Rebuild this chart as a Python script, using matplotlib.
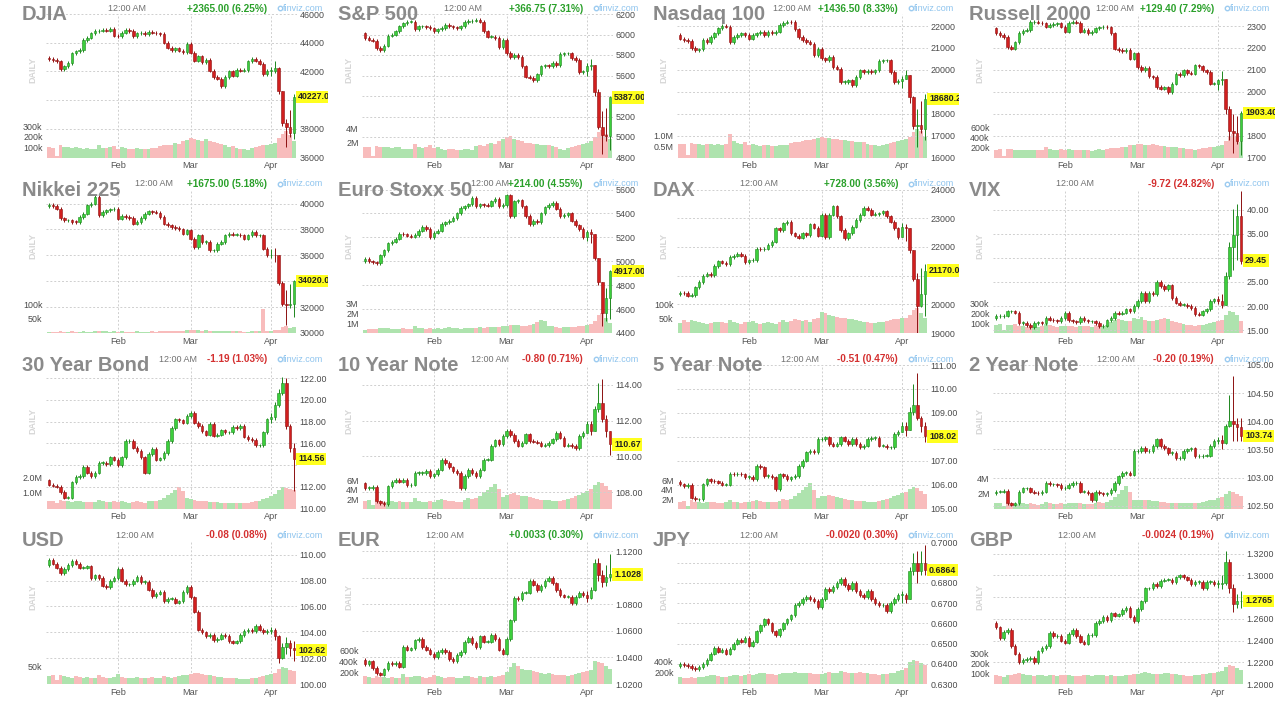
import numpy as np
import matplotlib.pyplot as plt
from matplotlib.lines import Line2D
from matplotlib.patches import Rectangle

plt.rcParams['font.family'] = ['Liberation Sans', 'DejaVu Sans']

W, H = 1280, 702

month_labels = ['Feb', 'Mar', 'Apr']
month_pos = [18, 37, 58]

# ---------------- closes (Jan / Feb / Mar / Apr rows) ----------------
dj_close = [42850, 42800, 42700, 42150, 42350, 42600, 43250, 43400, 43500, 44200, 44350, 44650, 44800, 44850, 44900, 44850, 44950, 44500,
            44450, 44700, 44900, 44800, 44450, 44650, 44700, 44600, 44750, 44700, 44650, 44600, 44000, 43650, 43500, 43600, 43450, 43350, 43900,
            43300, 42750, 43050, 42650, 42800, 42050, 41600, 41500, 40950, 41600, 42000, 41700, 42100, 42050, 42100, 42700, 42850, 42750, 42550, 41800, 42050,
            42050, 42250, 40600, 38400, 38100, 37700, 40227]
sp_close = [5965, 5950, 5940, 5870, 5850, 5890, 5990, 6000, 6030, 6080, 6110, 6125, 6125, 6050, 6080, 6080, 6075, 6060,
            6035, 6050, 6065, 6095, 6080, 6070, 6065, 6080, 6120, 6130, 6135, 6145, 6125, 6030, 5980, 5980, 5965, 5880, 5950,
            5820, 5780, 5800, 5780, 5690, 5590, 5580, 5555, 5610, 5690, 5700, 5690, 5720, 5700, 5810, 5815, 5815, 5770, 5750, 5630, 5640,
            5690, 5700, 5440, 5095, 5020, 5010, 5387]
nq_close = [21430, 21360, 21310, 21000, 20900, 20930, 21360, 21280, 21500, 21660, 21900, 22000, 21970, 21280, 21500, 21590, 21660, 21600,
            21430, 21590, 21660, 21740, 21590, 21740, 21660, 21740, 22050, 22150, 22200, 22180, 21850, 21510, 21360, 21280, 21200, 20670, 20970,
            20520, 20440, 20590, 20130, 20060, 19450, 19450, 19520, 19300, 19670, 19980, 19900, 19950, 19900, 19980, 20400, 20440, 20440, 19900, 19450, 19500,
            19600, 19750, 18750, 17450, 17500, 17300, 18680]
rut_close = [2268, 2259, 2251, 2205, 2197, 2226, 2269, 2279, 2282, 2318, 2320, 2315, 2312, 2297, 2305, 2309, 2312, 2297,
             2274, 2315, 2320, 2315, 2274, 2282, 2266, 2274, 2289, 2294, 2297, 2294, 2266, 2197, 2190, 2187, 2190, 2151, 2175,
             2113, 2098, 2110, 2070, 2067, 2021, 2014, 2020, 1998, 2037, 2082, 2075, 2098, 2086, 2083, 2121, 2116, 2098, 2090, 2037, 2037,
             2052, 2060, 1922, 1822, 1813, 1777, 1903.4]
nk_close = [39900, 39820, 39600, 38850, 38700, 38700, 38580, 38570, 38960, 39220, 39870, 40000, 40500, 39100, 39350, 39480, 39560, 39600,
            38840, 39040, 38970, 38890, 38450, 38580, 38890, 39220, 39400, 39350, 39300, 38970, 38450, 38320, 38190, 38110, 38010, 37670, 37930,
            37290, 36640, 37550, 37030, 37030, 36380, 36380, 36900, 37030, 37550, 37670, 37600, 37600, 37550, 37290, 37550, 37800, 37550, 37550, 36510, 35990,
            36000, 35990, 33900, 32250, 32200, 32250, 34020]
es_close = [5020, 5000, 4990, 4985, 5050, 5090, 5150, 5165, 5190, 5230, 5225, 5215, 5205, 5220, 5255, 5285, 5270, 5200,
            5240, 5255, 5310, 5325, 5340, 5360, 5400, 5445, 5460, 5475, 5530, 5460, 5475, 5470, 5465, 5500, 5520, 5460, 5470,
            5550, 5380, 5500, 5510, 5460, 5380, 5310, 5340, 5330, 5400, 5450, 5470, 5490, 5440, 5380, 5385, 5400, 5340, 5300, 5270, 5200,
            5245, 5230, 5030, 4830, 4570, 4690, 4917]
dax_close = [20410, 20390, 20300, 20320, 20590, 20770, 21000, 21060, 21020, 21340, 21500, 21450, 21400, 21650, 21700, 21770, 21700, 21470,
             21530, 21550, 21940, 21920, 21940, 22060, 22180, 22650, 22590, 22820, 22880, 22470, 22390, 22320, 22470, 22410, 22790, 22670, 22390,
             23120, 22350, 23120, 23410, 23060, 22590, 22300, 22470, 22710, 22940, 23120, 23350, 23300, 23120, 23140, 23170, 23240, 23060, 22880, 22650, 22350,
             22700, 22650, 21880, 20880, 19940, 20350, 21170]
vix_close = [17.9, 17.9, 18.0, 18.9, 18.9, 18.6, 16.5, 16.5, 16.1, 15.6, 16.5, 16.6, 16.5, 17.5, 17.2, 17.0, 16.8, 17.5,
             18.6, 17.0, 16.8, 16.6, 17.5, 17.0, 16.8, 16.8, 16.5, 15.8, 15.9, 17.0, 17.5, 18.6, 18.4, 18.6, 19.3, 18.9, 20.0,
             21.0, 22.8, 21.0, 22.8, 22.4, 25.0, 24.2, 23.5, 24.3, 21.7, 20.7, 20.3, 20.3, 20.0, 19.6, 18.3, 18.2, 18.9, 19.3, 21.0, 21.4,
             21.0, 20.3, 26.2, 32.2, 34.8, 38.8, 29.45]
us30_close = [112.2, 112.1, 112.0, 111.5, 111.0, 111.0, 112.4, 112.9, 113.0, 113.8, 113.3, 113.0, 113.3, 114.2, 114.2, 114.1, 114.7, 114.5,
              114.0, 114.7, 116.2, 116.2, 115.6, 115.3, 114.7, 113.3, 115.0, 115.5, 114.5, 114.6, 115.1, 116.2, 117.4, 118.2, 118.1, 117.9, 118.5,
              118.8, 117.9, 117.6, 117.1, 116.8, 117.8, 116.7, 116.8, 117.2, 117.0, 117.0, 117.5, 117.4, 117.6, 116.6, 116.4, 116.3, 115.8, 115.8, 117.0, 118.2,
              118.4, 119.5, 120.6, 121.5, 117.6, 115.6, 114.56]
ty10_close = [108.24, 108.24, 108.3, 107.5, 107.4, 107.35, 108.34, 108.6, 108.7, 108.6, 108.7, 108.4, 108.43, 109.08, 109.08, 109.08, 109.18, 108.9,
              109.0, 109.27, 109.83, 109.64, 109.4, 109.18, 109.08, 108.24, 108.9, 109.27, 109.08, 108.9, 109.27, 109.83, 109.83, 110.6, 110.9, 110.7, 111.14,
              111.42, 111.2, 110.86, 110.6, 110.77, 111.23, 110.86, 110.82, 110.77, 110.6, 110.64, 110.77, 110.95, 111.33, 111.05, 110.6, 110.64, 110.58, 110.45, 111.14, 111.33,
              111.8, 111.42, 112.64, 113.0, 112.08, 111.4, 110.67]
fv5_close = [106.01, 105.94, 106.0, 105.45, 105.38, 105.38, 106.01, 106.22, 106.15, 106.13, 106.08, 106.0, 106.0, 106.46, 106.43, 106.46, 106.43, 106.32,
             106.32, 106.22, 106.78, 106.72, 106.36, 106.36, 106.3, 105.8, 106.43, 106.36, 106.22, 106.3, 106.36, 106.78, 107.0, 107.35, 107.42, 107.35, 107.9,
             107.91, 107.98, 107.7, 107.63, 107.7, 107.98, 107.84, 107.7, 107.91, 107.7, 107.56, 107.63, 107.91, 107.95, 107.95, 107.63, 107.63, 107.56, 107.56, 108.12, 108.19,
             108.47, 108.29, 109.03, 109.31, 108.8, 108.45, 108.02]
tu2_close = [102.75, 102.75, 102.76, 102.54, 102.52, 102.54, 102.75, 102.81, 102.81, 102.75, 102.73, 102.72, 102.75, 102.9, 102.88, 102.88, 102.87, 102.81,
             102.82, 102.87, 102.9, 102.9, 102.75, 102.75, 102.72, 102.6, 102.75, 102.72, 102.7, 102.72, 102.78, 102.9, 103.02, 103.08, 103.08, 103.05, 103.47,
             103.47, 103.53, 103.47, 103.47, 103.56, 103.68, 103.56, 103.52, 103.44, 103.44, 103.34, 103.35, 103.47, 103.5, 103.52, 103.38, 103.38, 103.39, 103.39, 103.56, 103.65,
             103.66, 103.62, 103.92, 104.01, 103.95, 103.9, 103.74]
usd_close = [109.6, 109.3, 109.0, 108.6, 108.9, 109.2, 109.5, 109.3, 109.0, 109.0, 109.1, 108.2, 108.4, 108.2, 107.6, 107.5, 108.0, 108.2,
             108.9, 108.0, 107.7, 107.7, 108.0, 108.3, 107.9, 107.9, 107.3, 106.8, 107.0, 107.1, 106.4, 106.6, 106.6, 106.3, 106.4, 107.1, 107.5,
             106.7, 105.6, 104.2, 104.0, 103.7, 103.8, 103.4, 103.5, 103.8, 103.7, 103.3, 103.2, 103.3, 103.8, 104.1, 104.2, 104.1, 104.5, 104.2, 104.0, 104.1,
             104.2, 103.7, 102.0, 102.9, 103.2, 102.8, 102.62]
eur_close = [1.035, 1.037, 1.032, 1.028, 1.027, 1.031, 1.036, 1.035, 1.036, 1.033, 1.048, 1.046, 1.047, 1.053, 1.054, 1.048, 1.046, 1.043,
             1.040, 1.044, 1.046, 1.044, 1.039, 1.037, 1.042, 1.044, 1.052, 1.055, 1.051, 1.048, 1.056, 1.052, 1.052, 1.057, 1.054, 1.046, 1.043,
             1.054, 1.068, 1.085, 1.084, 1.089, 1.089, 1.098, 1.095, 1.091, 1.094, 1.098, 1.100, 1.096, 1.091, 1.087, 1.086, 1.086, 1.081, 1.086, 1.089, 1.087,
             1.085, 1.091, 1.111, 1.102, 1.097, 1.101, 1.1028]
jpy_close = [0.6400, 0.6395, 0.6390, 0.6380, 0.6375, 0.6385, 0.6400, 0.6420, 0.6450, 0.6480, 0.6460, 0.6470, 0.6450, 0.6475, 0.6500, 0.6520, 0.6510, 0.6530,
             0.6490, 0.6510, 0.6560, 0.6590, 0.6620, 0.6600, 0.6560, 0.6540, 0.6570, 0.6600, 0.6620, 0.6640, 0.6690, 0.6700, 0.6720, 0.6730, 0.6720, 0.6710, 0.6680,
             0.6720, 0.6770, 0.6760, 0.6780, 0.6800, 0.6820, 0.6790, 0.6770, 0.6800, 0.6760, 0.6740, 0.6730, 0.6760, 0.6720, 0.6700, 0.6690, 0.6690, 0.6660, 0.6700, 0.6720, 0.6740,
             0.6740, 0.6720, 0.6860, 0.6900, 0.6860, 0.6900, 0.6864]
gbp_close = [1.2520, 1.2420, 1.2480, 1.2500, 1.2350, 1.2280, 1.2200, 1.2220, 1.2230, 1.2240, 1.2200, 1.2300, 1.2330, 1.2350, 1.2470, 1.2440, 1.2440, 1.2400,
             1.2380, 1.2460, 1.2500, 1.2440, 1.2390, 1.2370, 1.2450, 1.2450, 1.2560, 1.2580, 1.2620, 1.2590, 1.2650, 1.2630, 1.2640, 1.2680, 1.2700, 1.2620, 1.2580,
             1.2690, 1.2760, 1.2880, 1.2880, 1.2920, 1.2900, 1.2950, 1.2960, 1.2960, 1.2940, 1.2980, 1.3000, 1.2980, 1.2960, 1.2920, 1.2940, 1.2940, 1.2880, 1.2940, 1.2940, 1.2920,
             1.2920, 1.2930, 1.3120, 1.2880, 1.2740, 1.2760, 1.2765]

# highs / lows of the last seven (April) sessions
dj_hi = [42300, 42700, 42300, 40600, 38700, 39300, 40400]
dj_lo = [41700, 41900, 40400, 38200, 36700, 37400, 37300]
sp_hi = [5720, 5760, 5620, 5470, 5250, 5280, 5400]
sp_lo = [5600, 5650, 5400, 5080, 4830, 4960, 4870]
nq_hi = [19700, 20000, 19300, 18800, 18200, 18600, 18900]
nq_lo = [19150, 19600, 18500, 17300, 16500, 17100, 16800]
rut_hi = [2060, 2095, 1960, 1935, 1900, 1890, 1910]
rut_lo = [2010, 2030, 1900, 1780, 1720, 1760, 1710]
nk_hi = [36500, 36600, 35200, 34000, 33300, 33800, 34100]
nk_lo = [35800, 35500, 33700, 32100, 30600, 31900, 31200]
es_hi = [5260, 5270, 5100, 5030, 4800, 4780, 4930]
es_lo = [5170, 5150, 5010, 4800, 4460, 4500, 4520]
dax_hi = [22850, 22800, 22150, 21900, 21100, 21250, 21400]
dax_lo = [22600, 22200, 21800, 20800, 19000, 19900, 19600]
vix_hi = [22.0, 22.4, 27.0, 33.3, 40.2, 41.2, 43.8]
vix_lo = [20.5, 19.6, 20.4, 25.6, 27.5, 29.5, 28.8]
us30_hi = [118.8, 119.8, 121.0, 122.1, 122.0, 117.8, 116.0]
us30_lo = [117.9, 118.1, 119.3, 120.4, 117.3, 115.2, 111.6]
ty10_hi = [112.0, 112.0, 112.8, 114.1, 114.3, 112.3, 111.4]
ty10_lo = [111.3, 111.2, 111.4, 112.5, 111.9, 111.1, 110.1]
fv5_hi = [108.6, 108.6, 109.25, 110.2, 110.65, 108.85, 108.6]
fv5_lo = [108.2, 108.05, 108.3, 108.9, 108.7, 108.2, 107.8]
tu2_hi = [103.72, 103.75, 103.95, 104.46, 104.8, 104.05, 104.05]
tu2_lo = [103.6, 103.5, 103.6, 103.9, 103.65, 103.65, 103.65]
usd_hi = [104.4, 104.3, 103.8, 103.2, 103.6, 103.4, 103.3]
usd_lo = [103.9, 103.4, 101.6, 101.9, 102.3, 102.2, 101.8]
eur_hi = [1.090, 1.093, 1.114, 1.115, 1.106, 1.110, 1.118]
eur_lo = [1.082, 1.084, 1.090, 1.098, 1.093, 1.094, 1.098]
jpy_hi = [0.6760, 0.6750, 0.6880, 0.6950, 0.6960, 0.6960, 0.6990]
jpy_lo = [0.6700, 0.6700, 0.6720, 0.6840, 0.6800, 0.6840, 0.6840]
gbp_hi = [1.296, 1.300, 1.322, 1.315, 1.292, 1.283, 1.286]
gbp_lo = [1.288, 1.287, 1.291, 1.284, 1.266, 1.270, 1.270]

# ---------------- volumes ----------------
dj_vol = [100, 95, 10, 125, 100, 100, 95, 100, 90, 85, 90, 80, 85, 120, 90, 90, 100, 110,
          85, 100, 90, 80, 85, 90, 85, 80, 85, 95, 90, 110, 125, 120, 125, 140, 130, 160, 170,
          185, 175, 170, 160, 180, 160, 150, 140, 130, 120, 100, 110, 90, 85, 80, 75, 90, 100, 110, 120, 125,
          130, 140, 190, 230, 260, 220, 160]
sp_vol = [1.5, 1.4, 0.2, 1.6, 1.5, 1.4, 1.5, 1.3, 1.4, 1.5, 1.2, 1.1, 1.2, 1.8, 1.4, 1.3, 1.4, 1.7,
          1.3, 1.4, 1.1, 1.0, 1.2, 1.1, 1.0, 1.0, 1.1, 1.2, 1.0, 1.6, 1.7, 1.6, 1.9, 2.0, 1.8, 2.3, 2.5,
          2.8, 3.0, 2.5, 2.4, 2.2, 2.0, 2.0, 1.8, 1.8, 1.7, 1.7, 1.7, 1.6, 1.4, 1.2, 1.0, 1.3, 1.4, 1.6, 1.7, 1.9,
          2.0, 2.2, 2.8, 3.5, 3.8, 3.2, 2.6]
nq_vol = [.62, .60, .10, .65, .62, .60, .58, .62, .60, .55, .60, .58, .62, 1.05, .75, .65, .62, .68,
          .58, .60, .55, .52, .55, .56, .52, .50, .55, .58, .55, .66, .72, .70, .74, .80, .78, .86, .88,
          .92, .90, .88, .85, .86, .80, .78, .76, .74, .72, .70, .68, .62, .58, .55, .52, .58, .62, .66, .72, .76,
          .80, .82, .95, 1.15, 1.30, 1.20, .95]
rut_vol = [150, 160, 20, 170, 160, 150, 150, 155, 150, 145, 150, 140, 150, 200, 165, 155, 150, 170,
           150, 165, 150, 140, 145, 150, 140, 135, 150, 160, 150, 175, 190, 180, 190, 210, 205, 240, 250,
           270, 260, 250, 245, 260, 240, 235, 225, 215, 205, 200, 195, 180, 170, 160, 150, 170, 180, 190, 200, 210,
           220, 240, 320, 420, 470, 400, 300]
nk_vol = [5, 5, 4, 6, 5, 5, 6, 5, 5, 6, 5, 5, 6, 8, 7, 6, 5, 6,
          5, 6, 5, 5, 5, 6, 5, 5, 5, 6, 5, 6, 6, 6, 6, 7, 7, 8, 9,
          10, 9, 9, 8, 9, 8, 7, 7, 7, 6, 6, 6, 6, 6, 5, 5, 6, 6, 6, 85, 7,
          8, 10, 12, 20, 25, 18, 22]
es_vol = [.35, .45, .40, .45, .50, .55, .50, .45, .40, .45, .50, .45, .45, .70, .55, .50, .45, .55,
          .45, .50, .45, .55, .60, .55, .50, .45, .50, .55, .50, .55, .60, .55, .60, .65, .60, .65, .70,
          .75, .80, .85, .80, .75, .70, .80, .90, 1.1, 1.3, 1.2, .75, .70, .60, .55, .60, .65, .60, .65, .70, .75,
          .80, .90, 1.2, 1.8, 2.1, 1.5, 1.0]
dax_vol = [35, 45, 40, 45, 42, 38, 35, 33, 35, 38, 40, 38, 36, 45, 40, 35, 32, 40,
           38, 42, 35, 32, 35, 38, 35, 33, 40, 45, 38, 42, 48, 45, 42, 45, 40, 48, 52,
           75, 70, 65, 60, 58, 55, 52, 50, 48, 45, 42, 40, 38, 36, 35, 38, 40, 42, 45, 48, 50,
           52, 55, 65, 80, 88, 70, 55]
vix_vol = [80, 90, 30, 85, 80, 90, 75, 70, 65, 70, 65, 60, 70, 95, 80, 70, 65, 75,
           70, 75, 70, 65, 70, 75, 70, 65, 80, 75, 70, 85, 110, 130, 140, 135, 120, 125, 150,
           140, 160, 130, 120, 125, 130, 140, 150, 140, 120, 110, 100, 90, 85, 80, 75, 80, 85, 90, 100, 110,
           120, 130, 180, 230, 220, 180, 120]
us30_vol = [.45, .50, .35, .55, .50, .45, .40, .45, .45, .40, .42, .40, .42, .55, .45, .42, .40, .45,
            .40, .45, .40, .38, .42, .45, .40, .38, .45, .50, .45, .55, .70, .85, 1.0, 1.2, 1.4, 1.1, .70,
            .60, .55, .50, .48, .45, .42, .40, .40, .38, .36, .35, .35, .34, .34, .36, .38, .40, .45, .50, .60, .70,
            .80, .95, 1.20, 1.35, 1.30, 1.25, 1.20]
ty10_vol = [1.6, 1.8, .8, 2.0, 1.7, 1.5, 1.4, 1.6, 1.5, 1.6, 1.4, 1.3, 1.5, 2.2, 1.7, 1.5, 1.4, 1.7,
            1.5, 1.8, 2.0, 1.8, 1.7, 1.6, 1.5, 1.5, 1.8, 2.2, 2.0, 2.3, 2.8, 3.5, 4.0, 4.6, 5.4, 4.2, 2.5,
            3.0, 3.2, 3.3, 3.0, 2.8, 2.6, 2.4, 2.2, 2.0, 1.9, 1.8, 1.8, 1.7, 1.6, 1.7, 1.8, 2.0, 2.2, 2.6, 3.0, 3.4,
            3.8, 4.2, 5.0, 5.7, 5.6, 4.8, 4.0]
fv5_vol = [1.4, 1.6, .6, 1.8, 1.5, 1.3, 1.2, 1.4, 1.3, 1.4, 1.2, 1.1, 1.3, 1.9, 1.5, 1.3, 1.2, 1.5,
           1.3, 1.6, 1.8, 1.6, 1.5, 1.4, 1.3, 1.3, 1.6, 2.0, 1.8, 2.1, 2.6, 3.3, 3.9, 4.6, 5.6, 4.0, 2.2,
           2.6, 2.8, 2.9, 2.6, 2.4, 2.2, 2.0, 1.9, 1.8, 1.7, 1.6, 1.6, 1.5, 1.4, 1.5, 1.6, 1.8, 2.0, 2.3, 2.6, 3.0,
           3.3, 3.6, 4.2, 4.7, 4.5, 3.8, 3.2]
tu2_vol = [.7, .8, .3, .9, .7, .6, .6, .7, .6, .7, .6, .5, .6, .9, .7, .6, .6, .7,
           .6, .7, .8, .7, .7, .6, .6, .6, .7, .9, .8, .9, 1.2, 1.6, 2.0, 2.5, 3.1, 2.2, 1.1,
           1.1, 1.2, 1.2, 1.1, 1.0, 1.0, .9, .9, .8, .8, .8, .7, .7, .7, .7, .8, .8, .9, 1.0, 1.1, 1.2,
           1.4, 1.6, 1.9, 2.3, 2.2, 2.0, 1.7]
usd_vol = [22, 25, 12, 24, 22, 20, 18, 22, 20, 18, 20, 16, 18, 26, 20, 18, 16, 20,
           28, 20, 18, 16, 18, 20, 18, 16, 18, 20, 16, 18, 22, 20, 18, 20, 22, 24, 26,
           28, 30, 32, 28, 26, 24, 22, 20, 20, 18, 18, 16, 16, 15, 14, 14, 16, 18, 20, 22, 24,
           28, 30, 42, 46, 44, 40, 36]
eur_vol = [150, 120, 110, 140, 130, 120, 110, 120, 110, 100, 180, 130, 120, 150, 140, 120, 110, 130,
           160, 140, 120, 110, 120, 130, 110, 100, 150, 140, 120, 110, 150, 130, 120, 140, 130, 150, 160,
           220, 300, 380, 320, 280, 250, 260, 240, 220, 200, 190, 200, 180, 170, 160, 160, 150, 170, 180, 200, 210,
           230, 260, 420, 400, 380, 330, 280]
jpy_vol = [120, 110, 100, 120, 110, 120, 130, 140, 150, 160, 140, 130, 120, 140, 150, 160, 140, 150,
           170, 160, 180, 190, 200, 180, 170, 160, 180, 190, 200, 190, 210, 200, 190, 200, 190, 180, 170,
           180, 200, 210, 200, 190, 220, 210, 200, 190, 200, 210, 200, 190, 180, 170, 160, 170, 180, 190, 200, 220,
           250, 280, 380, 420, 400, 360, 330]
gbp_vol = [90, 80, 70, 85, 90, 100, 110, 95, 90, 85, 80, 90, 85, 80, 90, 85, 80, 85,
           90, 85, 80, 75, 80, 85, 90, 80, 85, 90, 85, 80, 85, 80, 75, 80, 85, 90, 95,
           100, 110, 115, 105, 100, 95, 100, 105, 110, 100, 95, 90, 85, 80, 80, 85, 90, 95, 100, 105, 110,
           120, 130, 170, 190, 180, 160, 140]

GREEN_TXT, RED_TXT = '#2aa02a', '#d43030'

panels = [
    dict(name='DJIA', change='+2365.00 (6.25%)', up=True, last='40227.00', open0=42950,
         close=dj_close, vol=dj_vol, hi=dj_hi, lo=dj_lo, ylim=(36000, 46000),
         yticks=[36000, 38000, 40000, 42000, 44000, 46000], dec=0,
         vticks=[100, 200, 300], vlabels=['100k', '200k', '300k'], vtop=1390),
    dict(name='S&P 500', change='+366.75 (7.31%)', up=True, last='5387.00', open0=6010,
         close=sp_close, vol=sp_vol, hi=sp_hi, lo=sp_lo, ylim=(4800, 6200),
         yticks=[4800, 5000, 5200, 5400, 5600, 5800, 6000, 6200], dec=0,
         vticks=[2, 4], vlabels=['2M', '4M'], vtop=19.7),
    dict(name='Nasdaq 100', change='+1436.50 (8.33%)', up=True, last='18680.25', open0=21600,
         close=nq_close, vol=nq_vol, hi=nq_hi, lo=nq_lo, ylim=(16000, 22550),
         yticks=[16000, 17000, 18000, 19000, 20000, 21000, 22000], dec=0,
         vticks=[0.5, 1.0], vlabels=['0.5M', '1.0M'], vtop=6.5),
    dict(name='Russell 2000', change='+129.40 (7.29%)', up=True, last='1903.40', open0=2290,
         close=rut_close, vol=rut_vol, hi=rut_hi, lo=rut_lo, ylim=(1700, 2355),
         yticks=[1700, 1800, 1900, 2000, 2100, 2200, 2300], dec=0,
         vticks=[200, 400, 600], vlabels=['200k', '400k', '600k'], vtop=2860),
    dict(name='Nikkei 225', change='+1675.00 (5.18%)', up=True, last='34020.00', open0=39800,
         close=nk_close, vol=nk_vol, hi=nk_hi, lo=nk_lo, ylim=(30000, 41085),
         yticks=[30000, 32000, 34000, 36000, 38000, 40000], dec=0,
         vticks=[50, 100], vlabels=['50k', '100k'], vtop=510),
    dict(name='Euro Stoxx 50', change='+214.00 (4.55%)', up=True, last='4917.00', open0=5000,
         close=es_close, vol=es_vol, hi=es_hi, lo=es_lo, ylim=(4400, 5600),
         yticks=[4400, 4600, 4800, 5000, 5200, 5400, 5600], dec=0,
         vticks=[1, 2, 3], vlabels=['1M', '2M', '3M'], vtop=14.7),
    dict(name='DAX', change='+728.00 (3.56%)', up=True, last='21170.00', open0=20350,
         close=dax_close, vol=dax_vol, hi=dax_hi, lo=dax_lo, ylim=(19000, 24000),
         yticks=[19000, 20000, 21000, 22000, 23000, 24000], dec=0,
         vticks=[50, 100], vlabels=['50k', '100k'], vtop=510),
    dict(name='VIX', change='-9.72 (24.82%)', up=False, last='29.45', open0=17.5,
         close=vix_close, vol=vix_vol, hi=vix_hi, lo=vix_lo, ylim=(14.4, 44.2),
         yticks=[15, 20, 25, 30, 35, 40], dec=2,
         vticks=[100, 200, 300], vlabels=['100k', '200k', '300k'], vtop=1470),
    dict(name='30 Year Bond', change='-1.19 (1.03%)', up=False, last='114.56', open0=112.6,
         close=us30_close, vol=us30_vol, hi=us30_hi, lo=us30_lo, ylim=(110, 123.2),
         yticks=[110, 112, 114, 116, 118, 120, 122], dec=2,
         vticks=[1, 2], vlabels=['1.0M', '2.0M'], vtop=9.2),
    dict(name='10 Year Note', change='-0.80 (0.71%)', up=False, last='110.67', open0=108.5,
         close=ty10_close, vol=ty10_vol, hi=ty10_hi, lo=ty10_lo, ylim=(107.1, 115.1),
         yticks=[108, 110, 112, 114], dec=2,
         vticks=[2, 4, 6], vlabels=['2M', '4M', '6M'], vtop=31),
    dict(name='5 Year Note', change='-0.51 (0.47%)', up=False, last='108.02', open0=106.1,
         close=fv5_close, vol=fv5_vol, hi=fv5_hi, lo=fv5_lo, ylim=(105, 111),
         yticks=[105, 106, 107, 108, 109, 110, 111], dec=2,
         vticks=[2, 4, 6], vlabels=['2M', '4M', '6M'], vtop=31),
    dict(name='2 Year Note', change='-0.20 (0.19%)', up=False, last='103.74', open0=102.72,
         close=tu2_close, vol=tu2_vol, hi=tu2_hi, lo=tu2_lo, ylim=(102.45, 105),
         yticks=[102.5, 103, 103.5, 104, 104.5, 105], dec=2,
         vticks=[2, 4], vlabels=['2M', '4M'], vtop=19.4),
    dict(name='USD', change='-0.08 (0.08%)', up=False, last='102.62', open0=109.2,
         close=usd_close, vol=usd_vol, hi=usd_hi, lo=usd_lo, ylim=(100, 111.1),
         yticks=[100, 102, 104, 106, 108, 110], dec=2,
         vticks=[50], vlabels=['50k'], vtop=400),
    dict(name='EUR', change='+0.0033 (0.30%)', up=True, last='1.1028', open0=1.038,
         close=eur_close, vol=eur_vol, hi=eur_hi, lo=eur_lo, ylim=(1.02, 1.1283),
         yticks=[1.02, 1.04, 1.06, 1.08, 1.10, 1.12], dec=4,
         vticks=[200, 400, 600], vlabels=['200k', '400k', '600k'], vtop=2600),
    dict(name='JPY', change='-0.0020 (0.30%)', up=False, last='0.6864', open0=0.6390,
         close=jpy_close, vol=jpy_vol, hi=jpy_hi, lo=jpy_lo, ylim=(0.63, 0.701),
         yticks=[0.63, 0.64, 0.65, 0.66, 0.67, 0.68, 0.69, 0.70], dec=4,
         vticks=[200, 400], vlabels=['200k', '400k'], vtop=2500),
    dict(name='GBP', change='-0.0024 (0.19%)', up=False, last='1.2765', open0=1.2560,
         close=gbp_close, vol=gbp_vol, hi=gbp_hi, lo=gbp_lo, ylim=(1.20, 1.332),
         yticks=[1.20, 1.22, 1.24, 1.26, 1.28, 1.30, 1.32], dec=4,
         vticks=[100, 200, 300], vlabels=['100k', '200k', '300k'], vtop=1430),
]

col_left = [46, 362, 677, 993]
PW, PH = 251, 143.5

fig = plt.figure(figsize=(12.8, 7.02), dpi=100)
fig.patch.set_facecolor('white')

headers = []

for k, p in enumerate(panels):
    r, c = divmod(k, 4)
    left = col_left[c]
    top = 14 + 175.5 * r
    ptop = 175.5 * r

    vax = fig.add_axes([left / W, 1 - (top + PH) / H, PW / W, PH / H])
    ax = vax.twinx()

    closes = p['close']
    n = len(closes)
    opens = [p['open0']] + closes[:-1]
    ylo, yhi = p['ylim']
    span = yhi - ylo
    tail = n - len(p['hi'])

    xs = np.arange(n)
    ups = [cl >= o for o, cl in zip(opens, closes)]

    # volume
    vax.bar(xs, p['vol'], width=1.0, color=['#aee3ae' if u else '#f8bcbc' for u in ups],
            linewidth=0, zorder=2)
    vax.set_ylim(0, p['vtop'])
    vax.set_yticks(p['vticks'])
    vax.set_yticklabels(p['vlabels'])
    vax.set_xlim(-0.8, n - 0.2)
    vax.set_xticks(month_pos)
    vax.set_xticklabels(month_labels)
    vax.xaxis.grid(True, ls=(0, (2, 2)), color='#cfcfcf', lw=0.7)
    vax.set_axisbelow(True)
    vax.tick_params(axis='y', length=0, pad=2.5, labelsize=6.4, labelcolor='#4a4a4a')
    vax.tick_params(axis='x', length=0, pad=2.6, labelsize=6.6, labelcolor='#555555')

    # candles
    for i in range(n):
        o, cl = opens[i], closes[i]
        face = '#3ccf3c' if ups[i] else '#d11f1f'
        edge = '#1d861d' if ups[i] else '#8c1010'
        if i >= tail:
            h = max(p['hi'][i - tail], o, cl)
            l = min(p['lo'][i - tail], o, cl)
        else:
            h = max(o, cl) + 0.012 * span
            l = min(o, cl) - 0.012 * span
        ax.vlines(i, l, h, color=edge, lw=0.7, zorder=3)
        body = max(abs(cl - o), 0.004 * span)
        ax.bar(i, body, bottom=min(o, cl), width=0.68, color=face, edgecolor=edge,
               linewidth=0.4, zorder=4)

    # last price tag position (pixels from top); tick labels under it are hidden
    ypx = top + PH - (closes[-1] - ylo) / span * PH
    ylabels = []
    for v in p['yticks']:
        ty = top + PH - (v - ylo) / span * PH
        ylabels.append('' if abs(ty - ypx) < 8 else f"{v:.{p['dec']}f}")

    ax.set_ylim(ylo, yhi)
    ax.set_yticks(p['yticks'])
    ax.set_yticklabels(ylabels)
    ax.yaxis.grid(True, ls=(0, (2, 2)), color='#cfcfcf', lw=0.7, zorder=1)
    ax.tick_params(axis='y', length=0, pad=1.8, labelsize=6.4, labelcolor='#4a4a4a')

    for a in (ax, vax):
        for s in a.spines.values():
            s.set_visible(False)

    # header
    t = fig.text((left - 24) / W, 1 - (ptop + 14.5) / H, p['name'], fontsize=14.5,
                 fontweight='bold', color='#8a8a8a', ha='left', va='center')
    ch = fig.text((left + 221) / W, 1 - (ptop + 8.5) / H, p['change'], fontsize=7.2,
                  fontweight='bold', color=GREEN_TXT if p['up'] else RED_TXT,
                  ha='right', va='center')
    headers.append((t, ch, ptop))

    fig.add_artist(Line2D([(left + 234) / W], [1 - (ptop + 8) / H], marker='o', ms=3.2,
                          mfc='white', mec='#9ccbf0', mew=1.0, transform=fig.transFigure))
    fig.text((left + 237) / W, 1 - (ptop + 8.5) / H, 'finviz.com', fontsize=6.5,
             color='#8ec4ee', ha='left', va='center')

    fig.text((left - 13) / W, 1 - (top + 56) / H, 'DAILY', rotation=90, fontsize=6.5,
             fontweight='bold', color='#d6d6d6', ha='center', va='center')

    lab = fig.text((left + PW + 1) / W, 1 - ypx / H, p['last'], fontsize=6.4,
                   fontweight='bold', color='#222222', ha='left', va='center', zorder=6,
                   bbox=dict(boxstyle='square,pad=0.2', fc='#ffff1e', ec='none'))
    clip = Rectangle(((left + PW - 3) / W, 0), 34 / W, 1, transform=fig.transFigure)
    lab.set_clip_on(True)
    lab.set_clip_path(clip)

renderer = fig.canvas.get_renderer()
for t, ch, ptop in headers:
    b1 = t.get_window_extent(renderer)
    b2 = ch.get_window_extent(renderer)
    xc = (b1.x1 + b2.x0) / 2
    fig.text(xc / W, 1 - (ptop + 8.5) / H, '12:00 AM', fontsize=6.5, color='#707070',
             ha='center', va='center')

fig.savefig('out.png', dpi=100)
